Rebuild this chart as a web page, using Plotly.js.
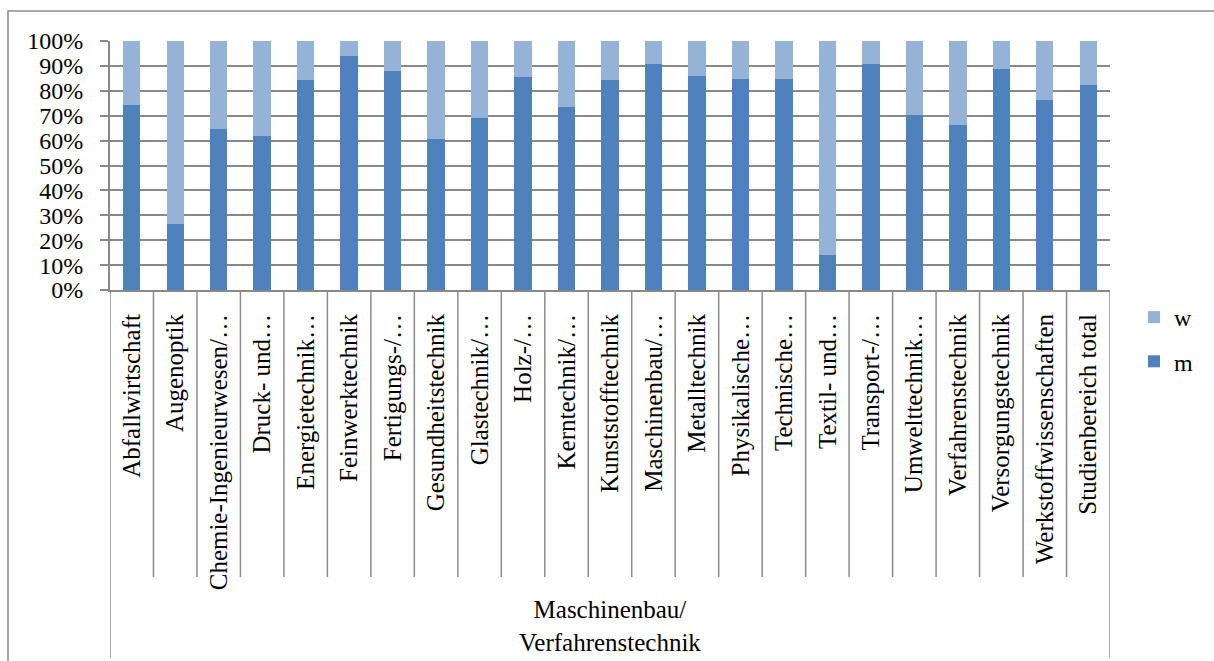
<!DOCTYPE html>
<html>
<head>
<meta charset="utf-8">
<script src="https://cdn.plot.ly/plotly-3.0.1.min.js"></script>
<style>html,body{margin:0;padding:0;background:#fff;}#chart{width:1214px;height:661px;}</style>
</head>
<body>
<div id="chart"></div>
<script>
var categories = [
  "Abfallwirtschaft", "Augenoptik", "Chemie-Ingenieurwesen/…", "Druck- und…",
  "Energietechnik…", "Feinwerktechnik", "Fertigungs-/…", "Gesundheitstechnik",
  "Glastechnik/…", "Holz-/…", "Kerntechnik/…", "Kunststofftechnik",
  "Maschinenbau/…", "Metalltechnik", "Physikalische…", "Technische…",
  "Textil- und…", "Transport-/…", "Umwelttechnik…", "Verfahrenstechnik",
  "Versorgungstechnik", "Werkstoffwissenschaften", "Studienbereich total"
];
var groupLabel = "Maschinenbau/<br>Verfahrenstechnik";
var mValues = [74.2, 26.7, 64.6, 62.0, 84.5, 94.1, 87.8, 60.7, 69.0, 85.6, 73.5, 84.2,
               90.6, 85.8, 84.9, 84.8, 14.2, 90.9, 70.1, 66.3, 88.8, 76.3, 82.2];
var wValues = [25.8, 73.3, 35.4, 38.0, 15.5, 5.9, 12.2, 39.3, 31.0, 14.4, 26.5, 15.8,
               9.4, 14.2, 15.1, 15.2, 85.8, 9.1, 29.9, 33.7, 11.2, 23.7, 17.8];
var yTicks = [0, 10, 20, 30, 40, 50, 60, 70, 80, 90, 100];
var yTickText = ["0%", "10%", "20%", "30%", "40%", "50%", "60%", "70%", "80%", "90%", "100%"];

var W = 1214, H = 661;
var mL = 110, mR = 104, mT = 41, mB = 371;
var pw = W - mL - mR, ph = H - mT - mB;
function py(pix) { return (H - mB - pix) / ph; }   // pixel y -> paper y
function px(pix) { return (pix - mL) / pw; }       // pixel x -> paper x

var fontFam = 'Liberation Serif, Times New Roman, serif';
var grid = '#888888';

var traces = [
  {type: 'bar', name: 'm', x: categories, y: mValues, legendgroup: 'm', legendrank: 2,
   marker: {color: '#4F81BD'}, hoverinfo: 'x+y'},
  {type: 'bar', name: 'w', x: categories, y: wValues, legendgroup: 'w', legendrank: 1,
   marker: {color: '#95B3D7'}, hoverinfo: 'x+y'}
];

var shapes = [];
var n = categories.length;
for (var i = 0; i <= n; i++) {
  var outer = (i === 0 || i === n);
  shapes.push({type: 'line', xref: 'x', yref: 'paper',
    x0: i - 0.5, x1: i - 0.5, y0: 0, y1: outer ? py(658) : py(577),
    line: {color: '#8c8c8c', width: 1.5}, layer: 'above'});
}
// outer chart-area border (clipped by the window on right and bottom)
shapes.push({type: 'rect', xref: 'paper', yref: 'paper',
  x0: px(8), x1: px(1240), y0: py(700), y1: py(11),
  line: {color: '#8c8c8c', width: 1.5}, fillcolor: 'rgba(0,0,0,0)', layer: 'below'});

var layout = {
  width: W, height: H,
  margin: {l: mL, r: mR, t: mT, b: mB, pad: 0},
  paper_bgcolor: '#ffffff', plot_bgcolor: '#ffffff',
  barmode: 'stack', bargap: 0.6,
  font: {family: fontFam, size: 24, color: '#000000'},
  showlegend: true,
  legend: {traceorder: 'grouped', x: px(1134), xanchor: 'left', y: py(295), yanchor: 'top',
           font: {family: fontFam, size: 24, color: '#000'}, tracegroupgap: 10,
           bgcolor: 'rgba(0,0,0,0)'},
  xaxis: {type: 'category', tickangle: -90, ticks: '', showgrid: false,
          showline: true, linecolor: grid, linewidth: 2, ticklabelstandoff: 12,
          tickfont: {family: fontFam, size: 25, color: '#000'}, automargin: false,
          range: [-0.5, n - 0.5], fixedrange: true},
  yaxis: {range: [0, 100], tickmode: 'array', tickvals: yTicks, ticktext: yTickText,
          ticks: 'outside', ticklen: 8,
          tickcolor: grid, tickwidth: 1.5, showgrid: true, gridcolor: grid, gridwidth: 1.5,
          showline: true, linecolor: grid, linewidth: 2, zeroline: false,
          ticklabelstandoff: 12, tickfont: {family: fontFam, size: 24, color: '#000'},
          automargin: false, fixedrange: true},
  shapes: shapes,
  annotations: [{xref: 'x', yref: 'paper', x: (n - 1) / 2, y: py(626), text: groupLabel,
                 showarrow: false, font: {family: fontFam, size: 25, color: '#000'},
                 xanchor: 'center', yanchor: 'middle', align: 'center'}]
};

Plotly.newPlot('chart', traces, layout, {displayModeBar: false, staticPlot: false});
</script>
</body>
</html>
